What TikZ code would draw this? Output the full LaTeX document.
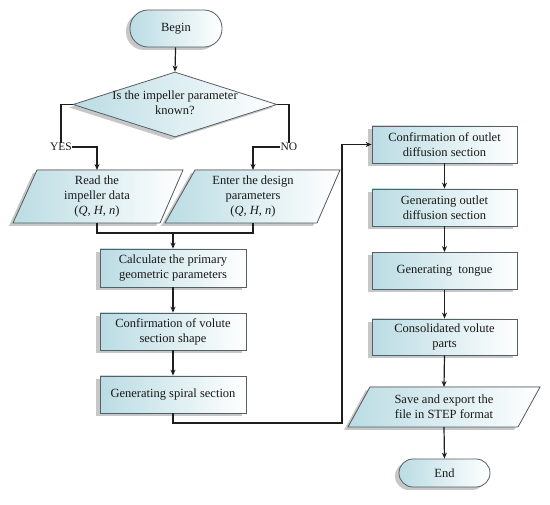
\documentclass[tikz,border=0pt]{standalone}
\usepackage{fontspec}
\setmainfont{Liberation Serif}
\usetikzlibrary{shapes.geometric,shadows,arrows.meta}
\definecolor{boxc}{RGB}{186,220,227}
\definecolor{linec}{RGB}{30,30,30}
\definecolor{edgec}{RGB}{85,95,100}
\begin{document}
\begin{tikzpicture}[x=1pt,y=-1pt,
  font=\fontsize{12.5}{15}\selectfont,
  shad/.style={drop shadow={shadow xshift=-4pt,shadow yshift=-3pt,opacity=0.22,fill=black}},
  fillc/.style={left color=boxc,right color=white,draw=edgec,line width=0.8pt},
  box/.style={rectangle,fillc,shad,minimum width=146pt,minimum height=37pt,inner sep=0pt,align=center,text=black!90},
  term/.style={rectangle,rounded corners=14pt,fillc,shad,minimum width=92pt,minimum height=28pt,inner sep=0pt,text=black!90},
  txt/.style={align=center,inner sep=0pt,text=black!90},
  conn/.style={draw=linec,line width=1.2pt},
  arr/.style={conn,-{Stealth[length=6pt,width=5pt]}}
]
\useasboundingbox (0,0) rectangle (550,505);

% Left column
\node[term,minimum height=37pt,rounded corners=18pt] (begin) at (176,28.5) {Begin};
\node[diamond,fillc,shad,minimum width=204pt,minimum height=65pt,inner sep=0pt] (dia) at (175,104.5) {};
\node[txt] (diat) at (175,103) {Is the impeller parameter\\known?};

\node[txt,font=\fontsize{11.5}{13}\selectfont] (yes) at (61,147) {YES};
\node[txt,font=\fontsize{11.5}{13}\selectfont] (no) at (289,147) {NO};

% parallelograms
\filldraw[fillc,shad] (37,170) -- (183,170) -- (160,223) -- (13,223) -- cycle;
\coordinate (readtop) at (97,170);
\coordinate (readbot) at (97,223);
\node[txt] (read) at (97,196.5) {Read the\\impeller data\\(\textit{Q}, \textit{H}, \textit{n})};

\filldraw[fillc,shad] (195,170) -- (340,170) -- (317,223) -- (165,223) -- cycle;
\coordinate (entertop) at (253,170);
\coordinate (enterbot) at (253,223);
\node[txt] (enter) at (253,196.5) {Enter the design\\parameters\\(\textit{Q}, \textit{H}, \textit{n})};

\coordinate (jl) at (97,233);
\coordinate (jr) at (253,233);
\coordinate (jm) at (173,233);

\node[box,minimum height=38pt] (b1) at (173,268) {Calculate the primary\\geometric parameters};
\node[box] (b2) at (173,331.5) {Confirmation of volute\\section shape};
\node[box] (b3) at (173,394.5) {Generating spiral section};

% Right column
\node[box,minimum width=145pt] (r1) at (444.5,144.5) {Confirmation of outlet\\diffusion section};
\node[box,minimum width=145pt] (r2) at (444.5,207.5) {Generating outlet\\diffusion section};
\node[box,minimum width=145pt] (r3) at (444.5,271) {Generating\ \ tongue};
\node[box,minimum width=145pt,minimum height=36pt] (r4) at (444.5,337) {Consolidated volute\\parts};

\filldraw[fillc,shad] (370,387) -- (540,387) -- (518,427) -- (348,427) -- cycle;
\coordinate (savetop) at (444,387);
\coordinate (savebot) at (444,427);
\node[txt] (save) at (444,407) {Save and export the\\file in STEP format};

\node[term,minimum width=91pt] (end) at (444.5,473) {End};

\coordinate (t1) at (342,423);

% connectors
\draw[arr] (begin) -- (dia.north);
\draw[conn] (dia.west) -| (yes.north);
\draw[arr] (yes.east) -| (readtop);
\draw[conn] (dia.east) -| (no.north);
\draw[arr] (no.west) -| (entertop);
\draw[conn] (readbot) -- (jl) -- (jr) -- (enterbot);
\draw[arr] (jm) -- (b1.north);
\draw[arr] (b1) -- (b2);
\draw[arr] (b2) -- (b3);
\draw[arr] (b3.south) |- (t1) |- (r1.west);
\draw[arr] (r1) -- (r2);
\draw[arr] (r2) -- (r3);
\draw[arr] (r3) -- (r4);
\draw[arr] (r4.south) -- (savetop);
\draw[arr] (savebot) -- (end.north);
\end{tikzpicture}
\end{document}
